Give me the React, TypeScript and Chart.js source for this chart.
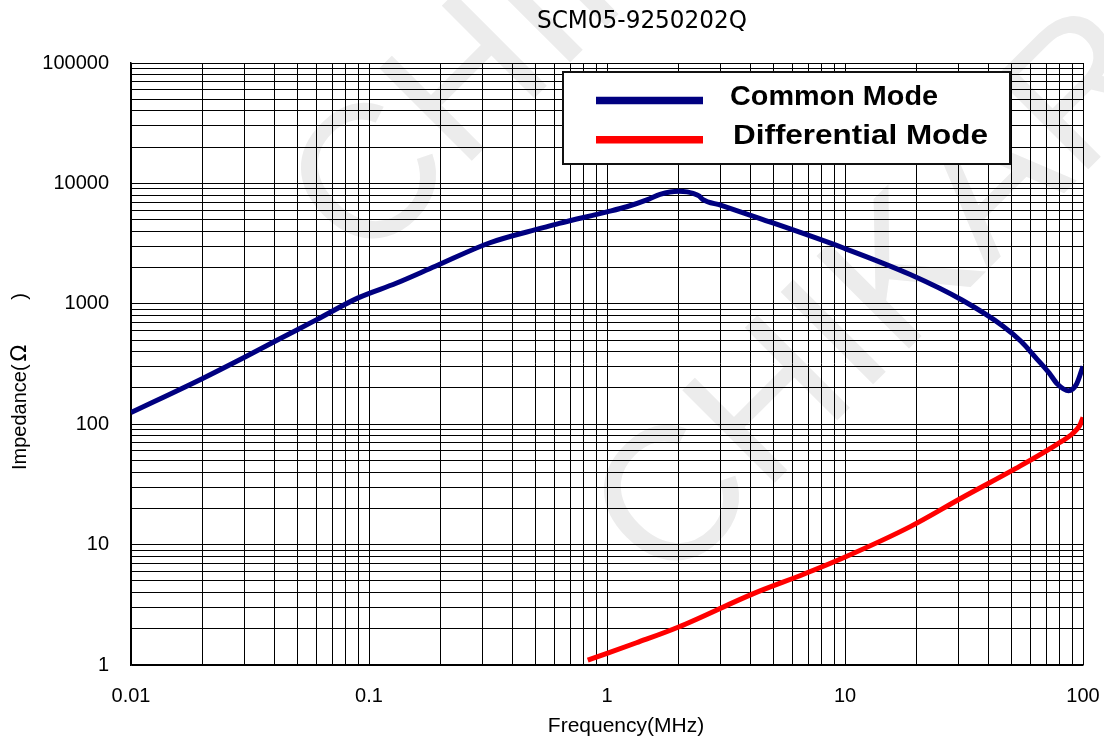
import { useEffect, useRef } from 'react';
import { Chart, registerables } from 'chart.js';

Chart.register(...registerables);

const chartTitle = 'SCM05-9250202Q';
const xAxisTitle = 'Frequency(MHz)';
const yAxisTitleMain = 'Impedance(';
const yAxisTitleOmega = 'Ω';
const yAxisTitleClose = ')';
const watermarkText = 'CHIKAR';
const seriesNames = ['Common Mode', 'Differential Mode'];
const seriesColors = ['#000080', '#ff0000'];

const cmFreq = [0.01, 0.02, 0.03, 0.042, 0.06, 0.09, 0.13, 0.19, 0.32, 0.54, 0.63, 1.0, 1.21, 1.5, 1.67, 2.0, 2.17, 2.3, 2.44, 2.52, 3.0, 4.37, 9.8, 18.8, 31, 46, 55, 63, 72, 78, 87, 94, 100];
const cmImp = [125, 240, 360, 510, 735, 1120, 1480, 2050, 3200, 4290, 4660, 5800, 6400, 7400, 8100, 8600, 8500, 8250, 7860, 7380, 6600, 5130, 2920, 1750, 1075, 655, 486, 361, 267, 216, 190, 216, 303];

const dmFreq = [0.83, 1.0, 1.33, 2.0, 4.1, 6.78, 9.8, 18.8, 31, 52, 77.7, 91, 97, 100];
const dmImp = [1.1, 1.25, 1.53, 2.07, 3.9, 5.73, 7.74, 14.1, 24.5, 42.7, 68, 84.5, 98, 114];

const xTickLabels = ['0.01', '0.1', '1', '10', '100'];
const yTickLabels = ['1', '10', '100', '1000', '10000', '100000'];

const buildLogTicks = (labels: string[]) => {
  const majors = labels.map(Number);
  const out: number[] = [];
  for (let i = 0; i < majors.length - 1; i++) {
    for (let m = 1; m <= 9; m++) out.push(majors[i] * m);
  }
  out.push(majors[majors.length - 1]);
  return out;
};

const labelFor = (labels: string[]) => (value: number | string) => {
  const v = Number(value);
  const idx = labels.findIndex((l) => Math.abs(Number(l) - v) / Number(l) < 1e-6);
  return idx >= 0 ? labels[idx] : '';
};

const fitText = (
  ctx: CanvasRenderingContext2D,
  text: string,
  font: string,
  x: number,
  y: number,
  width: number | null,
  align: CanvasTextAlign
) => {
  ctx.save();
  ctx.font = font;
  const w = ctx.measureText(text).width;
  const s = width ? width / w : 1;
  ctx.translate(x, y);
  ctx.scale(s, 1);
  ctx.textAlign = align;
  ctx.textBaseline = 'alphabetic';
  ctx.fillText(text, 0, 0);
  ctx.restore();
};

const decorPlugin = {
  id: 'decor',
  beforeDraw(chart: any) {
    const ctx: CanvasRenderingContext2D = chart.ctx;
    ctx.save();
    ctx.fillStyle = '#ececec';
    ctx.font = '190px "Liberation Sans", Arial, sans-serif';
    ctx.textBaseline = 'middle';
    ctx.textAlign = 'left';
    const centers = [
      [369, 178],
      [672, 500],
    ];
    for (const [cx, cy] of centers) {
      ctx.save();
      ctx.translate(cx, cy);
      ctx.rotate(-Math.PI / 4);
      ctx.fillText(watermarkText, -68, 8);
      ctx.restore();
    }
    ctx.restore();

    ctx.save();
    ctx.fillStyle = '#000';
    fitText(ctx, chartTitle, '25px "DejaVu Sans", Verdana, sans-serif', 642, 28, 210, 'center');
    fitText(ctx, xAxisTitle, '21px "Liberation Sans", Arial, sans-serif', 626, 732, null, 'center');
    // y title (rotated)
    ctx.save();
    ctx.translate(26, 470);
    ctx.rotate(-Math.PI / 2);
    ctx.font = '20px "Liberation Sans", Arial, sans-serif';
    ctx.textAlign = 'left';
    ctx.textBaseline = 'alphabetic';
    ctx.fillText(yAxisTitleMain, 0, 0);
    const mw = ctx.measureText(yAxisTitleMain).width;
    ctx.font = '22px "DejaVu Sans", sans-serif';
    ctx.fillText(yAxisTitleOmega, mw + 3, 0);
    ctx.font = '20px "Liberation Sans", Arial, sans-serif';
    ctx.textAlign = 'right';
    ctx.fillText(yAxisTitleClose, 177, 0);
    ctx.restore();
    ctx.restore();
  },
  afterDraw(chart: any) {
    const ctx: CanvasRenderingContext2D = chart.ctx;
    ctx.save();
    ctx.fillStyle = '#ffffff';
    ctx.fillRect(563, 72, 447, 92);
    ctx.strokeStyle = '#111';
    ctx.lineWidth = 2;
    ctx.strokeRect(563, 72, 447, 92);
    const rows = [
      { y: 100.5, ty: 105, tx: 730, tw: 208 },
      { y: 139.7, ty: 143.5, tx: 733, tw: 255 },
    ];
    rows.forEach((r, i) => {
      ctx.strokeStyle = seriesColors[i];
      ctx.lineWidth = 7.5;
      ctx.beginPath();
      ctx.moveTo(596, r.y);
      ctx.lineTo(703, r.y);
      ctx.stroke();
      ctx.fillStyle = '#000';
      fitText(ctx, seriesNames[i], 'bold 27px "Liberation Sans", Arial, sans-serif', r.tx, r.ty, r.tw, 'left');
    });
    ctx.restore();
  },
};

export default function App() {
  const ref = useRef<HTMLCanvasElement | null>(null);
  useEffect(() => {
    document.body.style.margin = '0';
    const canvas = ref.current;
    if (!canvas) return;
    const xTicks = buildLogTicks(xTickLabels);
    const yTicks = buildLogTicks(yTickLabels);
    const chart = new Chart(canvas, {
      type: 'line',
      data: {
        datasets: [
          {
            label: seriesNames[0],
            data: cmFreq.map((f, i) => ({ x: f, y: cmImp[i] })),
            borderColor: seriesColors[0],
            borderWidth: 5,
            pointRadius: 0,
            cubicInterpolationMode: 'monotone',
            fill: false,
          },
          {
            label: seriesNames[1],
            data: dmFreq.map((f, i) => ({ x: f, y: dmImp[i] })),
            borderColor: seriesColors[1],
            borderWidth: 5,
            pointRadius: 0,
            cubicInterpolationMode: 'monotone',
            fill: false,
          },
        ],
      },
      options: {
        animation: false,
        responsive: false,
        devicePixelRatio: 1,
        layout: { padding: { top: 63, right: 21, bottom: 0, left: 0 } },
        plugins: { legend: { display: false }, title: { display: false }, tooltip: { enabled: false } },
        scales: {
          x: {
            type: 'logarithmic',
            min: 0.01,
            max: 100,
            afterBuildTicks: (axis: any) => {
              axis.ticks = xTicks.map((v) => ({ value: v }));
            },
            afterFit: (axis: any) => {
              axis.height = 75;
              axis.paddingLeft = 0;
              axis.paddingRight = 0;
            },
            grid: { color: '#000', lineWidth: 1, drawTicks: false },
            border: { display: true, color: '#000', width: 1.5 },
            ticks: {
              autoSkip: false,
              maxRotation: 0,
              padding: 19,
              color: '#000',
              font: { family: '"Liberation Sans", Arial, sans-serif', size: 20 },
              callback: labelFor(xTickLabels),
            },
          },
          y: {
            type: 'logarithmic',
            min: 1,
            max: 100000,
            afterBuildTicks: (axis: any) => {
              axis.ticks = yTicks.map((v) => ({ value: v }));
            },
            afterFit: (axis: any) => {
              axis.width = 131;
              axis.paddingTop = 0;
              axis.paddingBottom = 0;
            },
            grid: { color: '#000', lineWidth: 1, drawTicks: false },
            border: { display: true, color: '#000', width: 1.5 },
            ticks: {
              autoSkip: false,
              padding: 22,
              color: '#000',
              font: { family: '"Liberation Sans", Arial, sans-serif', size: 20 },
              callback: labelFor(yTickLabels),
            },
          },
        },
      },
      plugins: [decorPlugin],
    } as any);
    return () => chart.destroy();
  }, []);
  return (
    <div style={{ width: 1104, height: 740 }}>
      <canvas ref={ref} width={1104} height={740} style={{ display: 'block' }} />
    </div>
  );
}
